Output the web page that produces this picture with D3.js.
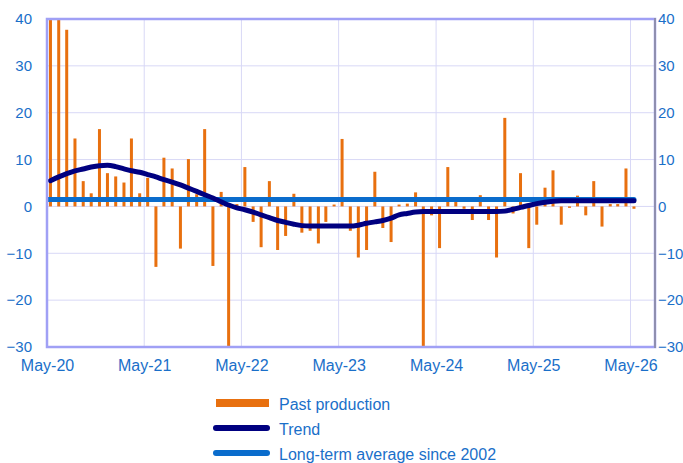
<!DOCTYPE html>
<html>
<head>
<meta charset="utf-8">
<script src="https://cdn.jsdelivr.net/npm/d3@7"></script>
<style>
  body { margin: 0; background: #fff; }
  text { font-family: "Liberation Sans", Arial, sans-serif; }
</style>
</head>
<body>
<script>
// monthly values, May-20 .. May-26
var production = [
  44, 44, 37.7, 14.5, 5.4, 2.8, 16.5, 7.1, 6.4, 5.1, 14.5, 2.8,
  6.1, -12.9, 10.4, 8.1, -9.0, 10.1, 2.6, 16.5, -12.7, 3.1, -32, 0.5,
  8.4, -3.3, -8.7, 5.4, -9.3, -6.3, 2.7, -5.6, -5.2, -7.9, -3.3, 0.4,
  14.4, -5.2, -10.9, -9.3, 7.4, -4.6, -7.6, 0.4, 0.6, 3.0, -32, -1.9,
  -8.9, 8.4, 1.1, -0.5, -2.9, 2.4, -2.9, -10.9, 18.9, -1.5, 7.1, -8.9,
  -3.9, 4.0, 7.7, -3.9, -0.3, 2.3, -1.9, 5.4, -4.3, 0.5, 0.5, 8.1,
  -0.5
];
var trend = [
  5.5, 6.3, 7.0, 7.6, 8.0, 8.4, 8.7, 8.8, 8.5, 8.0, 7.6, 7.3,
  6.8, 6.3, 5.7, 5.2, 4.6, 3.9, 3.2, 2.5, 1.8, 1.0, 0.3, -0.3,
  -0.7, -1.2, -1.8, -2.4, -3.0, -3.4, -3.8, -4.1, -4.2, -4.2, -4.2, -4.2,
  -4.2, -4.2, -4.0, -3.6, -3.3, -3.0, -2.5, -1.8, -1.5, -1.2, -1.1, -1.1,
  -1.1, -1.1, -1.1, -1.1, -1.1, -1.1, -1.1, -1.1, -1.0, -0.6, -0.2, 0.2,
  0.6, 0.9, 1.1, 1.2, 1.2, 1.2, 1.2, 1.2, 1.2, 1.2, 1.2, 1.2,
  1.2
];
var longTermAvg = 1.5;
var yTicks = [-30, -20, -10, 0, 10, 20, 30, 40];
var xTickLabels = ['May-20', 'May-21', 'May-22', 'May-23', 'May-24', 'May-25', 'May-26'];
var legendLabels = ['Past production', 'Trend', 'Long-term average since 2002'];

var width = 683;
var height = 463;
var margin = {top: 19, right: 28, bottom: 116, left: 47};

var months = d3.timeMonth.range(new Date(2020, 4, 1), new Date(2026, 5, 1));
var barDates = months.map(function(m) { return d3.timeDay.offset(m, 13); });
var tickDates = xTickLabels.map(function(d, i) { return new Date(2020 + i, 4, 1); });

var x = d3.scaleTime()
    .domain([new Date(2020, 4, 1), new Date(2026, 7, 1)])
    .range([margin.left, width - margin.right]);

var y = d3.scaleLinear()
    .domain([-30, 40])
    .range([height - margin.bottom, margin.top]);

var blue = '#1a6fc9';

var svg = d3.select('body')
  .append('svg')
    .attr('width', width)
    .attr('height', height);

// gridlines
svg.append('g')
  .selectAll('line')
  .data(yTicks)
  .join('line')
    .attr('x1', margin.left).attr('x2', width - margin.right)
    .attr('y1', function(d) { return y(d); }).attr('y2', function(d) { return y(d); })
    .attr('stroke', '#d8d8f6')
    .attr('stroke-width', 1);

svg.append('g')
  .selectAll('line')
  .data(tickDates)
  .join('line')
    .attr('x1', function(d) { return x(d); }).attr('x2', function(d) { return x(d); })
    .attr('y1', margin.top).attr('y2', height - margin.bottom)
    .attr('stroke', '#d8d8f6')
    .attr('stroke-width', 1);

// clip for data
svg.append('clipPath').attr('id', 'plot')
  .append('rect')
    .attr('x', margin.left).attr('y', margin.top)
    .attr('width', width - margin.left - margin.right)
    .attr('height', height - margin.top - margin.bottom);

var plot = svg.append('g').attr('clip-path', 'url(#plot)');

// bars
plot.append('g')
  .selectAll('rect')
  .data(production)
  .join('rect')
    .attr('x', function(d, i) { return x(barDates[i]) - 1.5; })
    .attr('width', 3)
    .attr('y', function(d) { return y(Math.max(0, d)); })
    .attr('height', function(d) { return Math.abs(y(d) - y(0)); })
    .attr('fill', '#e8700f');

// long-term average
plot.append('line')
  .attr('x1', x(barDates[0]) - 2)
  .attr('x2', x(barDates[barDates.length - 1]))
  .attr('y1', y(longTermAvg)).attr('y2', y(longTermAvg))
  .attr('stroke', '#0a6ccc')
  .attr('stroke-width', 5)
  .attr('stroke-linecap', 'round');

// trend
var line = d3.line()
  .x(function(d, i) { return x(barDates[i]); })
  .y(function(d) { return y(d); })
  .curve(d3.curveMonotoneX);

svg.append('path')
  .datum(trend)
  .attr('d', line)
  .attr('fill', 'none')
  .attr('stroke', '#000080')
  .attr('stroke-width', 5)
  .attr('stroke-linecap', 'round');

// frame
svg.append('rect')
  .attr('x', margin.left).attr('y', margin.top)
  .attr('width', width - margin.left - margin.right)
  .attr('height', height - margin.top - margin.bottom)
  .attr('fill', 'none')
  .attr('stroke', '#a0a0f5')
  .attr('stroke-width', 2.5);

svg.append('line')
  .attr('x1', width - margin.right).attr('x2', width - margin.right)
  .attr('y1', margin.top - 1).attr('y2', height - margin.bottom + 1)
  .attr('stroke', '#8f8fb0')
  .attr('stroke-width', 2);

// axes
var yLeft = d3.axisLeft(y).tickValues(yTicks).tickSize(0).tickPadding(15);
var yRight = d3.axisRight(y).tickValues(yTicks).tickSize(0).tickPadding(3);
var xAxis = d3.axisBottom(x).tickValues(tickDates)
  .tickFormat(function(d, i) { return xTickLabels[i]; })
  .tickSize(0).tickPadding(13);

function styleAxis(g, size) {
  g.select('.domain').remove();
  g.selectAll('text')
    .attr('fill', blue)
    .style('font-size', size);
}

styleAxis(svg.append('g').attr('transform', 'translate(' + margin.left + ',0)').call(yLeft), '15px');
styleAxis(svg.append('g').attr('transform', 'translate(' + (width - margin.right) + ',0)').call(yRight), '15px');
styleAxis(svg.append('g').attr('transform', 'translate(0,' + (height - margin.bottom) + ')').call(xAxis), '16px');

// legend
var legend = svg.append('g');
var legendY = [403, 428, 453];
var legendColors = ['#e8700f', '#000080', '#0a6ccc'];

legend.selectAll('line')
  .data(legendLabels)
  .join('line')
    .attr('x1', 216)
    .attr('x2', function(d, i) { return i === 0 ? 269 : 267; })
    .attr('y1', function(d, i) { return legendY[i]; })
    .attr('y2', function(d, i) { return legendY[i]; })
    .attr('stroke', function(d, i) { return legendColors[i]; })
    .attr('stroke-width', function(d, i) { return i === 0 ? 8 : 6; })
    .attr('stroke-linecap', function(d, i) { return i === 0 ? 'butt' : 'round'; });

legend.selectAll('text')
  .data(legendLabels)
  .join('text')
    .attr('x', 279)
    .attr('y', function(d, i) { return legendY[i] + 1; })
    .attr('dy', '0.35em')
    .attr('fill', blue)
    .style('font-size', '16px')
    .text(function(d) { return d; });
</script>
</body>
</html>
